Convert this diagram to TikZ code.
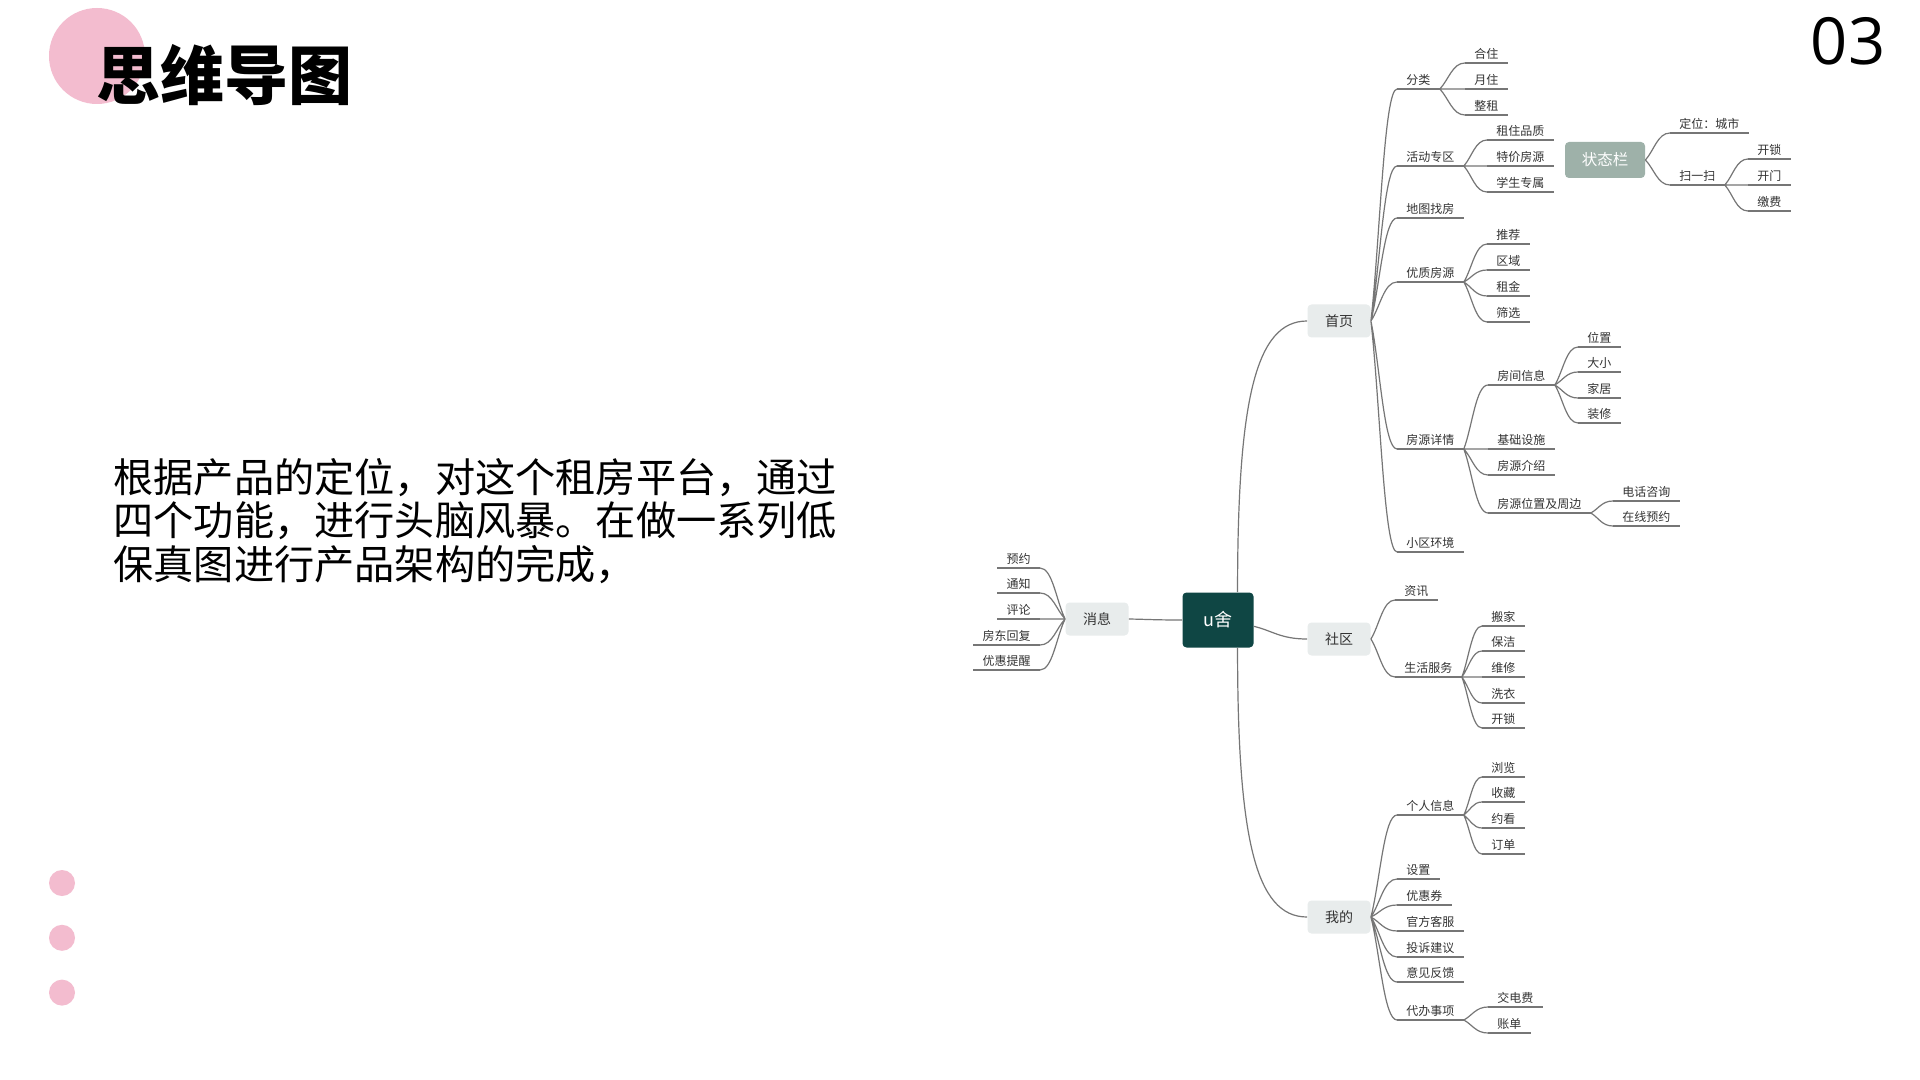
\documentclass[tikz,border=0pt]{standalone}
\usepackage{fontspec}
\setmainfont{Noto Sans CJK SC}
\newfontfamily\numfont{Open Sans}
\usepackage{xcolor}
\definecolor{mapPink}{HTML}{F3BCCF}
\definecolor{mapDark}{HTML}{0F4644}
\definecolor{mapSage}{HTML}{9EB1A9}
\definecolor{mapBox}{HTML}{E8ECEC}
\definecolor{mapLine}{HTML}{767676}
\definecolor{mapText}{HTML}{333333}
\usepackage{tikz}
\usetikzlibrary{positioning,calc}
\tikzset{
    root/.style={
        rectangle,
        rounded corners=2pt,
        fill=mapDark,
        minimum width=35.5pt,
        minimum height=27.5pt,
        inner sep=0pt,
        text=white,
        font=\fontsize{9}{10}\selectfont
    },
    topic/.style={
        rectangle,
        rounded corners=2pt,
        fill=mapBox,
        minimum width=31.5pt,
        minimum height=16.5pt,
        inner sep=0pt,
        text=mapText,
        font=\fontsize{7}{8}\selectfont
    },
    status/.style={
        rectangle,
        rounded corners=2pt,
        fill=mapSage,
        minimum width=40pt,
        minimum height=18pt,
        inner sep=0pt,
        text=white,
        font=\fontsize{7.75}{9}\selectfont
    },
    uline/.style={
        draw=mapLine,
        line width=0.6pt
    },
    item/.style={
        inner xsep=4.5pt,
        inner ysep=1.2pt,
        text height=5pt,
        text depth=0.9pt,
        text=mapText,
        font=\fontsize{6}{7}\selectfont,
        append after command={(\tikzlastnode.south west) edge[uline] (\tikzlastnode.south east)}
    },
    ritem/.style={item, anchor=south west},
    litem/.style={item, anchor=south east},
    branch/.style={
        draw=mapLine,
        line width=0.6pt,
        to path={.. controls ($(\tikztostart)!0.35!(\tikztotarget)$) and ($(\tikztotarget)!0.5!(\tikztostart|-\tikztotarget)$) .. (\tikztotarget) \tikztonodes}
    },
    trunk/.style={
        draw=mapLine,
        line width=0.6pt,
        to path={.. controls ($(\tikztostart)!0.7!(\tikztostart|-\tikztotarget)$) and ($(\tikztotarget)!0.75!(\tikztostart|-\tikztotarget)$) .. (\tikztotarget) \tikztonodes}
    },
    dot/.style={
        circle,
        fill=mapPink,
        minimum size=13pt,
        inner sep=0pt
    }
}
\begin{document}
\begin{tikzpicture}[x=0.5pt, y=-0.5pt]
    \useasboundingbox (0,0) rectangle (1920,1080);
    \fill[white] (0,0) rectangle (1920,1080);

    % Title with pink blob
    \node[circle, fill=mapPink, minimum size=48pt, inner sep=0pt] (blob) at (97,56) {};
    \node[anchor=west, inner sep=0pt, font=\fontsize{32}{36}\selectfont\bfseries] (title) at (96,75) {思维导图};
    \node[anchor=base, inner sep=0pt, font=\numfont\fontsize{32.5}{36}\selectfont] (pageno) at (1848,65) {03};

    % Intro text
    \node[anchor=west, inner sep=0pt, align=left, font=\fontsize{20.1}{21.7}\selectfont] (intro) at (113,521)
        {根据产品的定位，对这个租房平台，通过\\四个功能，进行头脑风暴。在做一系列低\\保真图进行产品架构的完成，};

    % Dots
    \node[dot] (dota) at (62,883) {};
    \node[dot, below=14pt of dota] (dotb) {};
    \node[dot, below=14pt of dotb] (dotc) {};

    % Root and main topics
    \node[root] (ushe) at (1218,620) {u舍};
    \node[topic] (shouye) at (1339,321) {首页};
    \node[topic] (shequ) at (1339,639) {社区};
    \node[topic] (wode) at (1339,917) {我的};
    \node[topic] (xiaoxi) at (1097,619) {消息};
    \node[status] (zhuangtai) at (1605,160) {状态栏};

    % Home page branch
    \node[ritem] (fenlei) at (1397,89) {分类};
    \node[ritem] (hezhu) at (1465,63) {合住};
    \node[ritem] (yuezhu) at (1465,89) {月住};
    \node[ritem] (zhengzu) at (1465,115) {整租};
    \node[ritem] (huodong) at (1397,166) {活动专区};
    \node[ritem] (pinzhi) at (1487,140) {租住品质};
    \node[ritem] (tejia) at (1487,166) {特价房源};
    \node[ritem] (xuesheng) at (1487,192) {学生专属};
    \node[ritem] (ditu) at (1397,218) {地图找房};
    \node[ritem] (youzhi) at (1397,282) {优质房源};
    \node[ritem] (tuijian) at (1487,244) {推荐};
    \node[ritem] (quyu) at (1487,270) {区域};
    \node[ritem] (zujin) at (1487,296) {租金};
    \node[ritem] (shaixuan) at (1487,322) {筛选};
    \node[ritem] (xiangqing) at (1397,449) {房源详情};
    \node[ritem] (fangjian) at (1488,385) {房间信息};
    \node[ritem] (weizhi) at (1578,347) {位置};
    \node[ritem] (daxiao) at (1578,372) {大小};
    \node[ritem] (jiaju) at (1578,398) {家居};
    \node[ritem] (zhuangxiu) at (1578,423) {装修};
    \node[ritem] (sheshi) at (1488,449) {基础设施};
    \node[ritem] (jieshao) at (1488,475) {房源介绍};
    \node[ritem] (zhoubian) at (1488,513) {房源位置及周边};
    \node[ritem] (dianhua) at (1613,501) {电话咨询};
    \node[ritem] (zaixian) at (1613,526) {在线预约};
    \node[ritem] (huanjing) at (1397,552) {小区环境};

    % Status bar
    \node[ritem] (dingwei) at (1670,133) {定位：城市};
    \node[ritem] (saoyisao) at (1670,185) {扫一扫};
    \node[ritem] (kaisuo) at (1748,159) {开锁};
    \node[ritem] (kaimen) at (1748,185) {开门};
    \node[ritem] (jiaofei) at (1748,211) {缴费};

    % Community branch
    \node[ritem] (zixun) at (1395,600) {资讯};
    \node[ritem] (shenghuo) at (1395,677) {生活服务};
    \node[ritem] (banjia) at (1482,626) {搬家};
    \node[ritem] (baojie) at (1482,651) {保洁};
    \node[ritem] (weixiu) at (1482,677) {维修};
    \node[ritem] (xiyi) at (1482,703) {洗衣};
    \node[ritem] (suo) at (1482,728) {开锁};

    % Mine branch
    \node[ritem] (geren) at (1397,815) {个人信息};
    \node[ritem] (liulan) at (1482,777) {浏览};
    \node[ritem] (shoucang) at (1482,802) {收藏};
    \node[ritem] (yuekan) at (1482,828) {约看};
    \node[ritem] (dingdan) at (1482,854) {订单};
    \node[ritem] (shezhi) at (1397,879) {设置};
    \node[ritem] (quan) at (1397,905) {优惠券};
    \node[ritem] (kefu) at (1397,931) {官方客服};
    \node[ritem] (tousu) at (1397,957) {投诉建议};
    \node[ritem] (yijian) at (1397,982) {意见反馈};
    \node[ritem] (daiban) at (1397,1020) {代办事项};
    \node[ritem] (dianfei) at (1488,1007) {交电费};
    \node[ritem] (zhangdan) at (1488,1033) {账单};

    % Message branch
    \node[litem] (yuyue) at (1040,568) {预约};
    \node[litem] (tongzhi) at (1040,593) {通知};
    \node[litem] (pinglun) at (1040,619) {评论};
    \node[litem] (fangdong) at (1040,645) {房东回复};
    \node[litem] (tixing) at (1040,670) {优惠提醒};

    % Connectors
    \draw[trunk] (ushe.55) to (shouye.west);
    \draw[branch] (ushe.-10) to (shequ.west);
    \draw[trunk] (ushe.-55) to (wode.west);
    \draw[branch] (xiaoxi.east) to (ushe.west);

    \draw[branch] (shouye.east) to (fenlei.south west) (shouye.east) to (huodong.south west)
        (shouye.east) to (ditu.south west) (shouye.east) to (youzhi.south west)
        (shouye.east) to (xiangqing.south west) (shouye.east) to (huanjing.south west);
    \draw[branch] (fenlei.south east) to (hezhu.south west) (fenlei.south east) to (yuezhu.south west)
        (fenlei.south east) to (zhengzu.south west);
    \draw[branch] (huodong.south east) to (pinzhi.south west) (huodong.south east) to (tejia.south west)
        (huodong.south east) to (xuesheng.south west);
    \draw[branch] (youzhi.south east) to (tuijian.south west) (youzhi.south east) to (quyu.south west)
        (youzhi.south east) to (zujin.south west) (youzhi.south east) to (shaixuan.south west);
    \draw[branch] (xiangqing.south east) to (fangjian.south west) (xiangqing.south east) to (sheshi.south west)
        (xiangqing.south east) to (jieshao.south west) (xiangqing.south east) to (zhoubian.south west);
    \draw[branch] (fangjian.south east) to (weizhi.south west) (fangjian.south east) to (daxiao.south west)
        (fangjian.south east) to (jiaju.south west) (fangjian.south east) to (zhuangxiu.south west);
    \draw[branch] (zhoubian.south east) to (dianhua.south west) (zhoubian.south east) to (zaixian.south west);

    \draw[branch] (zhuangtai.east) to (dingwei.south west) (zhuangtai.east) to (saoyisao.south west);
    \draw[branch] (saoyisao.south east) to (kaisuo.south west) (saoyisao.south east) to (kaimen.south west)
        (saoyisao.south east) to (jiaofei.south west);

    \draw[branch] (shequ.east) to (zixun.south west) (shequ.east) to (shenghuo.south west);
    \draw[branch] (shenghuo.south east) to (banjia.south west) (shenghuo.south east) to (baojie.south west)
        (shenghuo.south east) to (weixiu.south west) (shenghuo.south east) to (xiyi.south west)
        (shenghuo.south east) to (suo.south west);

    \draw[branch] (wode.east) to (geren.south west) (wode.east) to (shezhi.south west)
        (wode.east) to (quan.south west) (wode.east) to (kefu.south west)
        (wode.east) to (tousu.south west) (wode.east) to (yijian.south west)
        (wode.east) to (daiban.south west);
    \draw[branch] (geren.south east) to (liulan.south west) (geren.south east) to (shoucang.south west)
        (geren.south east) to (yuekan.south west) (geren.south east) to (dingdan.south west);
    \draw[branch] (daiban.south east) to (dianfei.south west) (daiban.south east) to (zhangdan.south west);

    \draw[branch] (xiaoxi.west) to (yuyue.south east) (xiaoxi.west) to (tongzhi.south east)
        (xiaoxi.west) to (pinglun.south east) (xiaoxi.west) to (fangdong.south east)
        (xiaoxi.west) to (tixing.south east);
\end{tikzpicture}
\end{document}
